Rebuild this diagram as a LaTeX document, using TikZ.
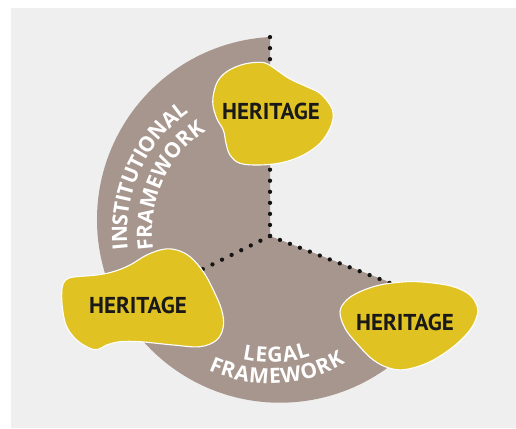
\documentclass[tikz,border=0pt]{standalone}
\usepackage{fontspec}
\setmainfont{PT Sans}
\newfontfamily\herfont{PT Sans}
\newfontfamily\framefont{Open Sans}
\usetikzlibrary{decorations.text}
\definecolor{bggray}{RGB}{239,239,239}
\definecolor{framegray}{RGB}{167,150,141}
\definecolor{herit}{RGB}{225,194,35}
\definecolor{dotc}{RGB}{20,20,20}
\newcommand\lblfont{\framefont\bfseries\fontsize{21}{21}\selectfont}
\begin{document}
\begin{tikzpicture}[x=1pt,y=1pt,
  blob/.style={fill=herit, draw=white, line width=1.1pt},
  herlabel/.style={font=\herfont\bfseries\fontsize{23}{23}\selectfont, text=black!90, inner sep=0pt},
  dotline/.style={draw=dotc, line width=4.3pt, line cap=round, dash pattern=on 0pt off #1},
  curvetext/.style={font=\lblfont, decorate, decoration={text along path, text align=center, text color=white, text={#1}}}
]
\useasboundingbox (0,0) rectangle (516,428);
\fill[bggray] (11,0) rectangle (516,420);
\coordinate (apex) at (270,192);
\coordinate (top) at (270,391);
\coordinate (ll) at (193,154);
\coordinate (lr) at (400,141);
% frame sector
\fill[framegray] (apex) -- (top) arc[start angle=93.13, end angle=333, radius=183] -- cycle;
% dotted separators
\draw[dotline=11.05pt] (apex) -- (top);
\draw[dotline=10.7pt] (apex) -- (ll);
\draw[dotline=10.7pt] (apex) -- (lr);
% curved labels
\path[curvetext={|\lblfont|{I\kern-.4pt}{N\kern-.4pt}{S\kern-.4pt}{T\kern-.4pt}{I\kern-.4pt}{T\kern-.4pt}{U\kern-.4pt}{T\kern-.4pt}{I\kern-.4pt}{O\kern-.4pt}{N\kern-.4pt}{A\kern-.4pt}L}] ([shift={(215:146)}]273,196) arc[start angle=215, end angle=97, radius=146];
\path[curvetext={|\lblfont|{F\kern.1pt}{R\kern.1pt}{A\kern.1pt}{M\kern.1pt}{E\kern.1pt}{W\kern.1pt}{O\kern.1pt}{R\kern.1pt}K}] ([shift={(215:121)}]273,196) arc[start angle=215, end angle=97, radius=121];
\path[curvetext={|\lblfont|{L\kern.9pt}{E\kern.9pt}{G\kern.9pt}{A\kern.9pt}L}] ([shift={(215:126.5)}]270,192) arc[start angle=215, end angle=331, radius=126.5];
\path[curvetext={|\lblfont|{F\kern.8pt}{R\kern.8pt}{A\kern.8pt}{M\kern.8pt}{E\kern.8pt}{W\kern.8pt}{O\kern.8pt}{R\kern.8pt}K}] ([shift={(215:147.5)}]270,192) arc[start angle=215, end angle=331, radius=147.5];
% heritage blobs
\draw[blob] plot[smooth cycle, tension=0.6] coordinates {(212.7,326.3) (216.7,344.7) (226.7,356.3) (243.3,363.7) (260,365.7) (268.3,363.7) (276.7,358) (290,349) (306.7,341.3) (320,334.7) (330,323) (333.3,313) (330,299.7) (320,284.7) (303.3,273) (283.3,265.7) (260,263) (240,264.7) (230,273) (226,284.7) (223.3,298) (216.7,309.7)};
\draw[blob] plot[smooth cycle, tension=0.6] coordinates {(340,116.3) (346.7,128) (360,136.3) (380,143) (406.7,146.3) (430,145.3) (453.3,141.3) (470,133) (477.3,121.3) (476.7,111.3) (470,98) (453.3,81.3) (430,66.3) (406.7,58.7) (390,59.7) (373.3,68) (356.7,84.7) (345,99.7)};
\draw[blob] plot[smooth cycle, tension=0.6] coordinates {(63.3,144.7) (68.3,149.7) (76.7,151.3) (96.7,153) (113.3,156.3) (130,163) (146.7,173) (163.3,178.7) (176.7,178) (190,171.3) (203.3,156.3) (213.3,138) (221.7,118) (223.3,101.3) (216.7,88) (200,81.3) (173.3,83) (140,86.3) (120,86.3) (106.7,83) (98.3,78.7) (90,79.7) (76.7,88) (66.7,101.3) (62.7,118) (61.7,134.7)};
\node[herlabel] (h1) at (271,317) {HERITAGE};
\node[herlabel] (h2) at (138,123) {HERITAGE};
\node[herlabel] (h3) at (405,106) {HERITAGE};
\end{tikzpicture}
\end{document}
